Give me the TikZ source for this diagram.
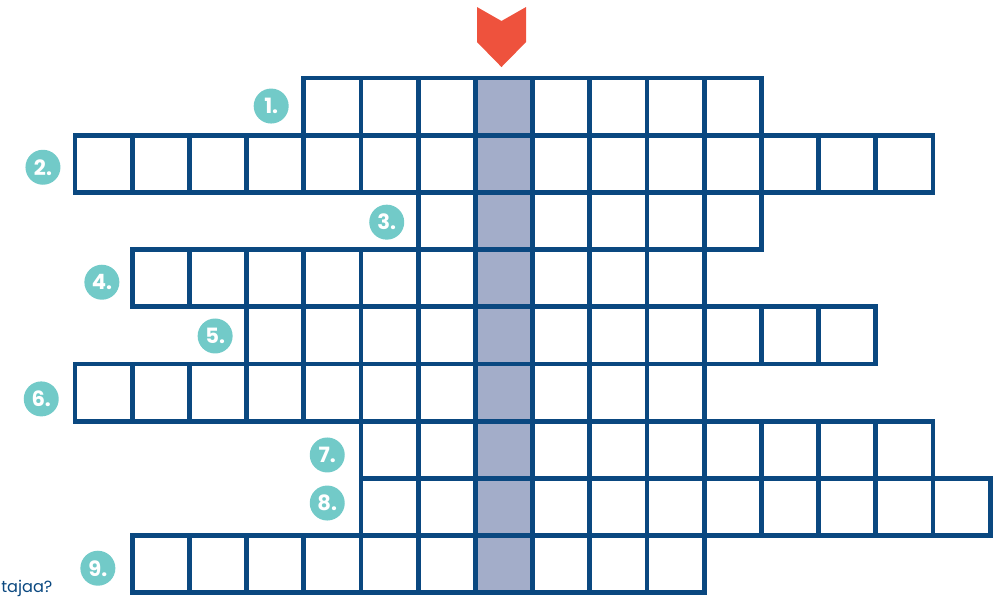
\documentclass[tikz,border=0pt]{standalone}
\usepackage{fontspec}
\setmainfont{Poppins}
\usetikzlibrary{positioning}
\definecolor{gridblue}{RGB}{10,72,128}
\definecolor{hilite}{RGB}{163,173,201}
\definecolor{marker}{RGB}{238,82,61}
\definecolor{badge}{RGB}{114,202,200}
\tikzstyle{gridline} = [
    draw=gridblue,
    line width=2.7pt
]
\tikzstyle{number} = [
    circle,
    fill=badge,
    minimum size=0.7cm,
    inner sep=0pt,
    text=white,
    font=\bfseries\fontsize{12}{12}\selectfont
]
\tikzstyle{question} = [
    text=gridblue,
    inner sep=0pt,
    font=\fontsize{9.2}{11}\selectfont
]

\begin{document}
\begin{tikzpicture}[x=1.144cm, y=-1.144cm]

\useasboundingbox (-1.311,-1.364) rectangle (16.049,9.056);

% solution column
\fill [hilite] (7,0) rectangle (8,9);

% rows: row / first column / last boundary
\foreach \r/\a/\b in {0/4/12, 1/0/15, 2/6/12, 3/1/11, 4/3/14,
                      5/0/11, 6/5/15, 7/5/16, 8/1/11} {
    \draw [gridline] (\a,\r) rectangle (\b,\r+1);
    \foreach \c in {\a,...,\b}
        \draw [gridline] (\c,\r) -- (\c,\r+1);
}

% marker above the solution column
\fill [marker] (7.028,-1.241) -- (7.456,-0.997) -- (7.885,-1.241)
    -- (7.885,-0.629) -- (7.456,-0.192) -- (7.028,-0.629) -- cycle;

\node (n1) [number] at (3.43,0.49) {1.};
\node (n2) [number] at (-0.56,1.56) {2.};
\node (n3) [number] at (5.45,2.52) {3.};
\node (n4) [number] at (0.47,3.57) {4.};
\node (n5) [number] at (2.45,4.51) {5.};
\node (n6) [number] at (-0.59,5.61) {6.};
\node (n7) [number] at (4.41,6.59) {7.};
\node (n8) [number] at (4.41,7.43) {8.};
\node (n9) [number] at (0.40,8.57) {9.};

\node (ask) [question, anchor=base west] at (-1.295,8.99) {tajaa?};

\end{tikzpicture}
\end{document}
